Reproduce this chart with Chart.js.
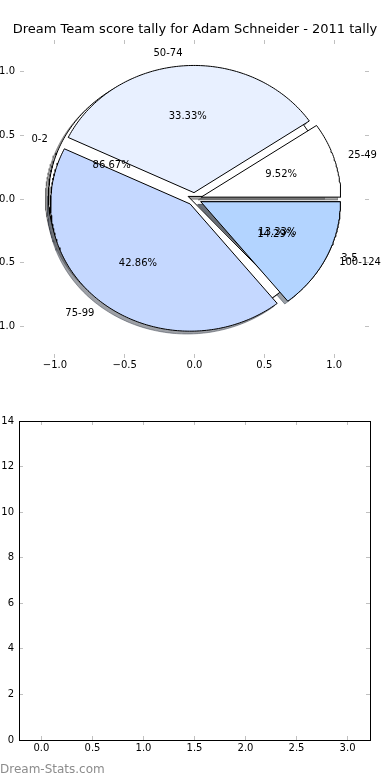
<!DOCTYPE html>
<html><head><meta charset="utf-8">
<script src="https://cdn.jsdelivr.net/npm/chart.js@4/dist/chart.umd.min.js"></script>
<style>
html,body{margin:0;padding:0;background:#fff;}
#wrap{position:relative;width:390px;height:780px;overflow:hidden;background:#fff;}
#c1{position:absolute;left:0;top:0;}
#c2{position:absolute;left:0;top:380px;}
#wm{position:absolute;left:0;top:762px;font:12px "DejaVu Sans";color:#8c8c8c;white-space:nowrap;}
</style></head><body>
<div id="wrap">
<canvas id="c1" width="390" height="380"></canvas>
<canvas id="c2" width="390" height="400"></canvas>
<div id="wm">Dream-Stats.com</div>
</div>
<script>
// ---- data ----
const titleText = 'Dream Team score tally for Adam Schneider - 2011 tally';
const pie1Labels = ['0-2', '3-5'];
const pie1Values = [13, 2];
const pie1Colors = ['#ffffff', '#e8f0ff'];
const pie2Labels = ['25-49', '50-74', '75-99', '100-124'];
const pie2Values = [2, 7, 9, 3];
const pie2Colors = ['#ffffff', '#e8f0ff', '#c5d8ff', '#b3d4ff'];
const explode = 0.05;
const pieTicks = [-1, -0.5, 0, 0.5, 1];
const lowerXTicks = [0, 0.5, 1, 1.5, 2, 2.5, 3];
const lowerYTicks = [0, 2, 4, 6, 8, 10, 12, 14];

Chart.defaults.font.family = 'DejaVu Sans';
Chart.defaults.font.size = 10;
Chart.defaults.color = '#000';

const SHADOW = -0.022;
function wedges(values, colors) {
  const total = values.reduce((a, b) => a + b, 0);
  let start = 0;
  return values.map((v, i) => {
    const span = 360 * v / total;
    const t1 = start; start += span;
    const mid = (t1 + span / 2) * Math.PI / 180;
    const cx = explode * Math.cos(mid), cy = explode * Math.sin(mid);
    const pts = [{x: cx, y: cy}];
    const n = Math.max(2, Math.ceil(span));
    for (let k = 0; k <= n; k++) {
      const a = (t1 + span * k / n) * Math.PI / 180;
      pts.push({x: cx + Math.cos(a), y: cy + Math.sin(a)});
    }
    pts.push({x: cx, y: cy});
    return {pts, mid, cx, cy, frac: v / total, color: colors[i]};
  });
}
function shadowColor(hex) {
  const r = parseInt(hex.slice(1, 3), 16), g = parseInt(hex.slice(3, 5), 16), b = parseInt(hex.slice(5, 7), 16);
  return `rgba(${Math.round(r * 0.3)},${Math.round(g * 0.3)},${Math.round(b * 0.3)},0.5)`;
}
const w1 = wedges(pie1Values, pie1Colors);
const w2 = wedges(pie2Values, pie2Colors);
const allW = [...w1, ...w2];
const seq = [];
allW.forEach(w => seq.push({data: w.pts.map(p => ({x: p.x + SHADOW, y: p.y + SHADOW})),
  backgroundColor: shadowColor(w.color), borderColor: shadowColor(w.color), borderWidth: 1}));
allW.forEach(w => seq.push({data: w.pts, backgroundColor: w.color, borderColor: '#000', borderWidth: 1}));
const N = seq.length;
const pieDatasets = seq.map((d, k) => Object.assign(d, {
  showLine: true, fill: 'shape', pointRadius: 0, pointHoverRadius: 0, pointHitRadius: 0,
  tension: 0, order: N - k, borderJoinStyle: 'miter'
}));

const fmt1 = v => (v < 0 ? '\u2212' : '') + Math.abs(v).toFixed(1);
const tickGrid = {drawOnChartArea: false, drawTicks: true, tickLength: -4, color: '#c0c0c0', lineWidth: 1};

function axis(pos, min, max, tickArr, opts) {
  return Object.assign({
    type: 'linear', position: pos, min, max,
    afterBuildTicks: s => { s.ticks = tickArr.map(v => ({value: v})); },
    grid: tickGrid,
  }, opts);
}

const pieText = {
  id: 'pieText',
  afterDatasetsDraw(chart) {
    const {ctx} = chart, x = chart.scales.x, y = chart.scales.y;
    ctx.save();
    ctx.font = '10px "DejaVu Sans"';
    ctx.fillStyle = '#000';
    ctx.textBaseline = 'middle';
    [[w1, pie1Labels], [w2, pie2Labels]].forEach(([ws, labels]) => {
      ws.forEach((w, i) => {
        const lx = w.cx + 1.1 * Math.cos(w.mid), ly = w.cy + 1.1 * Math.sin(w.mid);
        ctx.textAlign = lx > 0 ? 'left' : 'right';
        ctx.fillText(labels[i], x.getPixelForValue(lx), y.getPixelForValue(ly));
        const px = w.cx + 0.6 * Math.cos(w.mid), py = w.cy + 0.6 * Math.sin(w.mid);
        ctx.textAlign = 'center';
        ctx.fillText((w.frac * 100).toFixed(2) + '%', x.getPixelForValue(px), y.getPixelForValue(py));
      });
    });
    ctx.restore();
  }
};

const common = {responsive: false, animation: false, events: [],
  plugins: {legend: {display: false}, tooltip: {enabled: false}}};

new Chart(document.getElementById('c1'), {
  type: 'scatter',
  data: {datasets: pieDatasets},
  options: Object.assign({}, common, {
    plugins: {legend: {display: false}, tooltip: {enabled: false},
      title: {display: true, text: titleText, font: {size: 13, weight: 'normal'}, color: '#000', padding: {top: 22, bottom: 0}}},
    scales: {
      x: axis('bottom', -1.25, 1.25, pieTicks, {border: {display: false},
        ticks: {padding: 5, autoSkip: false, maxRotation: 0, callback: fmt1}, afterFit: s => { s.height = 22; }}),
      x2: axis('top', -1.25, 1.25, pieTicks, {border: {display: false},
        ticks: {display: false}, afterFit: s => { s.height = 2.4; }}),
      y: axis('left', -1.25, 1.25, pieTicks, {border: {display: false},
        ticks: {padding: 9, autoSkip: false, callback: fmt1}, afterFit: s => { s.width = 20; }}),
      y2: axis('right', -1.25, 1.25, pieTicks, {border: {display: false},
        ticks: {display: false}, afterFit: s => { s.width = 21; }}),
    }
  }),
  plugins: [pieText]
});

const blackBorder = {display: true, color: '#000', width: 1};
new Chart(document.getElementById('c2'), {
  type: 'scatter',
  data: {datasets: []},
  options: Object.assign({}, common, {
    scales: {
      x: axis('bottom', -0.22, 3.22, lowerXTicks, {border: blackBorder,
        ticks: {padding: 6, autoSkip: false, maxRotation: 0, callback: fmt1}, afterFit: s => { s.height = 40; }}),
      x2: axis('top', -0.22, 3.22, lowerXTicks, {border: blackBorder,
        ticks: {display: false}, afterFit: s => { s.height = 41; }}),
      y: axis('left', 0, 14, lowerYTicks, {border: blackBorder,
        ticks: {padding: 9, autoSkip: false, callback: v => String(v)}, afterFit: s => { s.width = 19; }}),
      y2: axis('right', 0, 14, lowerYTicks, {border: blackBorder,
        ticks: {display: false}, afterFit: s => { s.width = 20; }}),
    }
  })
});
</script>
</body></html>
